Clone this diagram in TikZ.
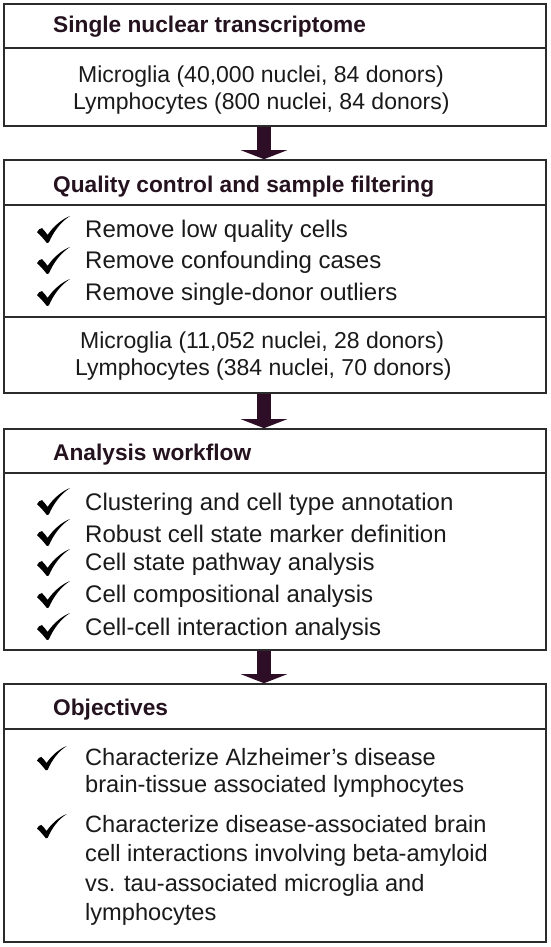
\documentclass[tikz,border=0pt]{standalone}
\usepackage{fontspec}
\setmainfont{Liberation Sans}
\usetikzlibrary{arrows.meta}
\definecolor{linec}{HTML}{2B2B2B}
\definecolor{arrc}{HTML}{2E0E26}
\definecolor{titc}{HTML}{24121F}
\definecolor{txtc}{HTML}{1A1A1A}
\tikzset{
  box/.style={draw=linec, line width=1.6pt, rectangle, inner sep=0pt, fill=white},
  divl/.style={draw=linec, line width=1.6pt},
  ttl/.style={anchor=base west, inner sep=0pt, text=titc, font=\fontsize{22.7}{27}\selectfont\bfseries},
  txt/.style={anchor=base west, inner sep=0pt, text=txtc, font=\fontsize{23}{27}\selectfont},
  itm/.style={anchor=base west, inner sep=0pt, text=txtc, font=\fontsize{24}{27}\selectfont},
  obj/.style={anchor=base west, inner sep=0pt, text=txtc, font=\fontsize{23.6}{27}\selectfont},
  flow/.style={draw=arrc, line width=14pt, -{Triangle[width=46pt,length=9pt,fill=arrc]}},
  chk/.pic={\fill[black] (33,0) .. controls (23.76,5.94) and (16.5,15.66) .. (11.88,26.46)
      -- (9.9,27) .. controls (6.6,22.95) and (3.3,18.9) .. (0,16.2)
      .. controls (1,13.5) and (3.3,12.15) .. (4.95,12.15)
      .. controls (6.6,13.5) and (8.25,15.66) .. (10.56,18.9)
      .. controls (16.5,10.26) and (24.75,3.24) .. (33,0) -- cycle;}
}
\begin{document}
\begin{tikzpicture}[x=1pt,y=-1pt]
\useasboundingbox[fill=white] (0,0) rectangle (550,947);
% boxes
\node[box, minimum width=542pt, minimum height=122pt] (b1) at (275,65) {};
\node[box, minimum width=542pt, minimum height=233pt] (b2) at (275,276.5) {};
\node[box, minimum width=542pt, minimum height=221pt] (b3) at (275,539.5) {};
\node[box, minimum width=542pt, minimum height=258pt] (b4) at (275,813) {};
% dividers
\coordinate (d1) at (0,48);
\coordinate (d2) at (0,205);
\coordinate (d3) at (0,317);
\coordinate (d4) at (0,473);
\coordinate (d5) at (0,729);
\draw[divl] (d1 -| b1.west) -- (d1 -| b1.east);
\draw[divl] (d2 -| b2.west) -- (d2 -| b2.east);
\draw[divl] (d3 -| b2.west) -- (d3 -| b2.east);
\draw[divl] (d4 -| b3.west) -- (d4 -| b3.east);
\draw[divl] (d5 -| b4.west) -- (d5 -| b4.east);
% arrows
\coordinate (ax) at (264,0);
\draw[flow] (ax |- b1.south) -- (ax |- b2.north);
\draw[flow] (ax |- b2.south) -- (ax |- b3.north);
\draw[flow] (ax |- b3.south) -- (ax |- b4.north);
% box 1
\node[ttl] (t1) at (53,33) {Single nuclear transcriptome};
\node[txt] (l11) at (78,83) {Microglia (40,000 nuclei, 84 donors)};
\node[txt] (l12) at (73,110) {Lymphocytes (800 nuclei, 84 donors)};
% box 2
\node[ttl] (t2) at (53,192) {Quality control and sample filtering};
\node[itm] (q1) at (85,237) {Remove low quality cells};
\node[itm] (q2) at (85,268) {Remove confounding cases};
\node[itm] (q3) at (85,300) {Remove single-donor outliers};
\pic at (37,216) {chk};
\pic at (37,247) {chk};
\pic at (37,279) {chk};
\node[txt] (l21) at (80,348) {Microglia (11,052 nuclei, 28 donors)};
\node[txt] (l22) at (75,375) {Lymphocytes (384 nuclei, 70 donors)};
% box 3
\node[ttl] (t3) at (53,460) {Analysis workflow};
\node[itm] (a1) at (85,510) {Clustering and cell type annotation};
\node[itm] (a2) at (85,542) {Robust cell state marker definition};
\node[itm] (a3) at (85,570) {Cell state pathway analysis};
\node[itm] (a4) at (85,602) {Cell compositional analysis};
\node[itm] (a5) at (85,635) {Cell-cell interaction analysis};
\pic at (37,488) {chk};
\pic at (37,519) {chk};
\pic at (37,549) {chk};
\pic at (37,581) {chk};
\pic at (37,613) {chk};
% box 4
\node[ttl] (t4) at (53,715) {Objectives};
\node[obj] (o1) at (85,765) {Characterize Alzheimer’s disease};
\node[obj] (o2) at (85,792) {brain-tissue associated lymphocytes};
\node[obj] (o3) at (85,832) {Characterize disease-associated brain};
\node[obj] (o4) at (85,861) {cell interactions involving beta-amyloid};
\node[obj] (o5) at (85,891) {vs. tau-associated microglia and};
\node[obj] (o6) at (85,920) {lymphocytes};
\pic[scale=0.9] at (37,746) {chk};
\pic[scale=0.9] at (37,814) {chk};
\end{tikzpicture}
\end{document}
